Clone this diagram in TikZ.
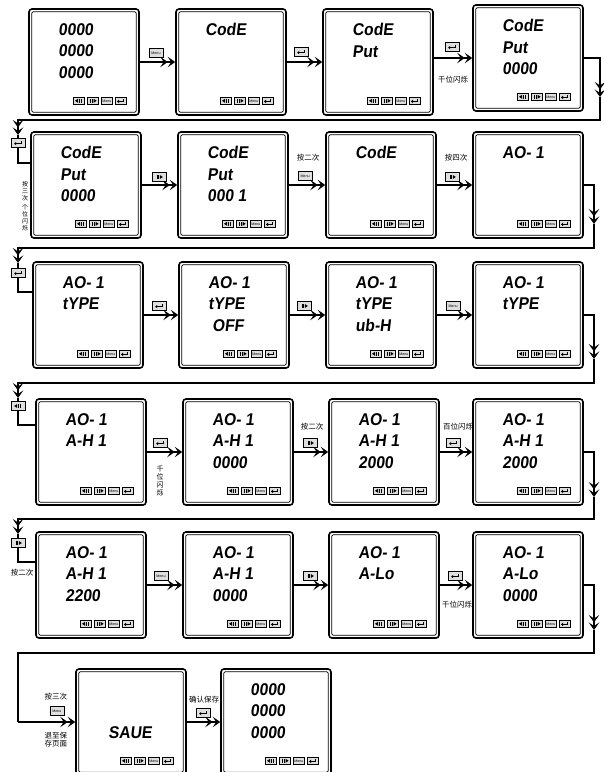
\documentclass[tikz,border=0pt]{standalone}
\usepackage{fontspec}
\setmainfont{Liberation Sans}
\newfontfamily\lcdfont{Liberation Sans}[FakeSlant=0.12,FakeStretch=0.92]
\newfontfamily\cjk{Noto Sans CJK SC}
\usetikzlibrary{arrows.meta,calc}

% one meter face: name, centre, display lines
\newcommand{\meter}[3]{%
  \node[meter] (#1) at (#2) {};
  \draw[meterin] ($(#1.north west)+(3.5,3.5)$) rectangle ($(#1.south east)+(-3.5,-3.5)$);
  \node[lcd] (#1-txt) at ($(#1.north west)+(30,15)$) {#3};
  \node[key,kl] (#1-kl) at ($(#1.south east)+(-61,-15)$) {};
  \node[key,kr] (#1-kr) at ($(#1.south east)+(-47,-15)$) {};
  \node[key,km] (#1-km) at ($(#1.south east)+(-33,-15)$) {Menu};
  \node[key,ke] (#1-ke) at ($(#1.south east)+(-19,-15)$) {};
}

\tikzset{
  meter/.style={draw, line width=1.6pt, rounded corners=3pt,
    minimum width=110pt, minimum height=106pt, inner sep=0pt},
  meterin/.style={line width=0.7pt, rounded corners=1.5pt},
  lcd/.style={anchor=north west, align=left, inner sep=0pt,
    font=\lcdfont\bfseries\fontsize{17}{21.5}\selectfont},
  key/.style={draw, fill=gray!25, line width=0.5pt, minimum width=11pt,
    minimum height=7.5pt, inner sep=0pt},
  bigkey/.style={key, minimum width=14pt, minimum height=9pt},
  kl/.style={path picture={
    \coordinate (pc) at (path picture bounding box.center);
    \fill[black] ([xshift=-3.8pt]pc) -- ([xshift=-0.8pt,yshift=2pt]pc)
      -- ([xshift=-0.8pt,yshift=-2pt]pc) -- cycle;
    \fill[black] ([xshift=0.2pt,yshift=-2.3pt]pc) rectangle ([xshift=0.9pt,yshift=2.3pt]pc);
    \fill[black] ([xshift=1.7pt,yshift=-2.3pt]pc) rectangle ([xshift=2.4pt,yshift=2.3pt]pc);
  }},
  kr/.style={path picture={
    \coordinate (pc) at (path picture bounding box.center);
    \fill[black] ([xshift=3.8pt]pc) -- ([xshift=0.8pt,yshift=2pt]pc)
      -- ([xshift=0.8pt,yshift=-2pt]pc) -- cycle;
    \fill[black] ([xshift=-0.2pt,yshift=-2.3pt]pc) rectangle ([xshift=-0.9pt,yshift=2.3pt]pc);
    \fill[black] ([xshift=-1.7pt,yshift=-2.3pt]pc) rectangle ([xshift=-2.4pt,yshift=2.3pt]pc);
  }},
  km/.style={font=\fontsize{3.6}{3.6}\selectfont, text=black},
  ke/.style={path picture={
    \coordinate (pc) at (path picture bounding box.center);
    \draw[black, line width=0.8pt, -{Triangle[length=2pt,width=3.2pt]}]
      ([xshift=3pt,yshift=2pt]pc) -- ([xshift=3pt,yshift=-0.6pt]pc)
      -- ([xshift=-3.8pt,yshift=-0.6pt]pc);
  }},
  flow/.style={line width=1.2pt},
  note/.style={font=\cjk\fontsize{7.5}{8}\selectfont, inner sep=0pt},
  tiny/.style={font=\cjk\fontsize{6}{6.8}\selectfont, inner sep=0pt, align=center}
}

\begin{document}
\begin{tikzpicture}[x=1pt, y=-1pt,
  >={Stealth[length=7.5pt,width=10.5pt,inset=3.5pt]}]
\useasboundingbox (0,0) rectangle (604,772);
\clip (0,0) rectangle (604,772);
\fill[white] (0,0) rectangle (604,772);

% ---- row 1 ----
\meter{m1}{84,62}{0000\\0000\\0000}
\meter{m2}{231,62}{CodE}
\meter{m3}{378,62}{CodE\\Put}
\meter{m4}{528,58}{CodE\\Put\\0000}
\draw[flow,->>] (m1) -- (m2);
\draw[flow,->>] (m2) -- (m3);
\draw[flow,->>] (m4.west -| m3.east) -- (m4.west);
\node[bigkey,km] (k12) at (156,53) {Menu};
\node[bigkey,ke] (k23) at (301,52) {};
\node[bigkey,ke] (k34) at (452,47) {};
\node[note] (t34) at (453,80) {千位闪烁};

% ---- wrap 1 ----
\coordinate (w1a) at (600,97);
\coordinate (w1r) at (600,120);
\coordinate (w1l) at (18,120);
\coordinate (w1b) at (18,135);
\coordinate (w1e) at (18,163);

% ---- row 2 ----
\meter{m5}{86,185}{CodE\\Put\\0000}
\meter{m6}{233,185}{CodE\\Put\\000 1}
\meter{m7}{381,185}{CodE}
\meter{m8}{528,185}{AO- 1}
\draw[flow,->>] (m4.east) -| (w1a);
\draw[flow,->>] (w1a) -- (w1r) -- (w1l) -- (w1b);
\draw[flow] (w1b) -- (w1e) -- (w1e -| m5.west);
\node[bigkey,ke] (k45) at (18,143) {};
\node[tiny] (t45) at (25,206) {按\\三\\次\\[3pt]个\\位\\闪\\烁};
\draw[flow,->>] (m5) -- (m6);
\draw[flow,->>] (m6) -- (m7);
\draw[flow,->>] (m7) -- (m8);
\node[bigkey,kr] (k56) at (159,177) {};
\node[note] (t67) at (308,158) {按二次};
\node[bigkey,km] (k67) at (305,176) {Menu};
\node[note] (t78) at (456,158) {按四次};
\node[bigkey,kr] (k78) at (452,177) {};

% ---- wrap 2 ----
\coordinate (w2a) at (594,224);
\coordinate (w2r) at (594,248);
\coordinate (w2l) at (18,248);
\coordinate (w2b) at (18,263);
\coordinate (w2e) at (18,292);

% ---- row 3 ----
\meter{m9}{88,315}{AO- 1\\tYPE}
\meter{m10}{234,315}{AO- 1\\tYPE\\\hspace{4pt}OFF}
\meter{m11}{381,315}{AO- 1\\tYPE\\ub-H}
\meter{m12}{528,315}{AO- 1\\tYPE}
\draw[flow,->>] (m8.east) -| (w2a);
\draw[flow,->>] (w2a) -- (w2r) -- (w2l) -- (w2b);
\draw[flow] (w2b) -- (w2e) -- (w2e -| m9.west);
\node[bigkey,ke] (k89) at (18,273) {};
\draw[flow,->>] (m9) -- (m10);
\draw[flow,->>] (m10) -- (m11);
\draw[flow,->>] (m11) -- (m12);
\node[bigkey,ke] (k910) at (159,306) {};
\node[bigkey,kr] (k1011) at (304,306) {};
\node[bigkey,km] (k1112) at (453,306) {Menu};

% ---- wrap 3 ----
\coordinate (w3a) at (594,359);
\coordinate (w3r) at (594,383);
\coordinate (w3l) at (18,383);
\coordinate (w3b) at (18,398);
\coordinate (w3e) at (18,425);

% ---- row 4 ----
\meter{m13}{91,452}{AO- 1\\A-H 1}
\meter{m14}{238,452}{AO- 1\\A-H 1\\0000}
\meter{m15}{384,452}{AO- 1\\A-H 1\\2000}
\meter{m16}{528,452}{AO- 1\\A-H 1\\2000}
\draw[flow,->>] (m12.east) -| (w3a);
\draw[flow,->>] (w3a) -- (w3r) -- (w3l) -- (w3b);
\draw[flow] (w3b) -- (w3e) -- (w3e -| m13.west);
\node[bigkey,kl] (k1213) at (18,406) {};
\draw[flow,->>] (m13) -- (m14);
\draw[flow,->>] (m14) -- (m15);
\draw[flow,->>] (m15) -- (m16);
\node[bigkey,ke] (k1314) at (160,443) {};
\node[tiny, font=\cjk\fontsize{7}{8}\selectfont] (t1314) at (160,481) {千\\位\\闪\\烁};
\node[note] (t1415) at (312,427) {按二次};
\node[bigkey,kr] (k1415) at (310,443) {};
\node[note] (t1516) at (458,427) {百位闪烁};
\node[bigkey,ke] (k1516) at (453,443) {};

% ---- wrap 4 ----
\coordinate (w4a) at (594,497);
\coordinate (w4r) at (594,519);
\coordinate (w4l) at (18,519);
\coordinate (w4b) at (18,534);
\coordinate (w4e) at (18,562);

% ---- row 5 ----
\meter{m17}{91,585}{AO- 1\\A-H 1\\2200}
\meter{m18}{238,585}{AO- 1\\A-H 1\\0000}
\meter{m19}{384,585}{AO- 1\\A-Lo}
\meter{m20}{528,585}{AO- 1\\A-Lo\\0000}
\draw[flow,->>] (m16.east) -| (w4a);
\draw[flow,->>] (w4a) -- (w4r) -- (w4l) -- (w4b);
\draw[flow] (w4b) -- (w4e) -- (w4e -| m17.west);
\node[bigkey,kr] (k1617) at (18,543) {};
\node[note] (t1617) at (22,573) {按二次};
\draw[flow,->>] (m17) -- (m18);
\draw[flow,->>] (m18) -- (m19);
\draw[flow,->>] (m19) -- (m20);
\node[bigkey,km] (k1718) at (161,576) {Menu};
\node[bigkey,kr] (k1819) at (310,576) {};
\node[bigkey,ke] (k1920) at (455,576) {};
\node[note] (t1920) at (457,605) {千位闪烁};

% ---- wrap 5 ----
\coordinate (w5a) at (594,630);
\coordinate (w5r) at (594,653);
\coordinate (w5l) at (18,653);
\coordinate (w5e) at (18,722);

% ---- row 6 ----
\meter{m21}{131,722}{\vphantom{0}\\\vphantom{0}\\\hspace{3pt}SAUE}
\meter{m22}{276,722}{0000\\0000\\0000}
\draw[flow,->>] (m20.east) -| (w5a);
\draw[flow] (w5a) -- (w5r) -- (w5l) -- (w5e);
\draw[flow,->>] (w5e) -- (w5e -| m21.west);
\node[note] (t2021) at (56,697) {按三次};
\node[bigkey,km] (k2021) at (57,711) {Menu};
\node[note, align=center] (u2021) at (56,740) {退至保\\存页面};
\draw[flow,->>] (m21) -- (m22);
\node[note] (t2122) at (204,700) {确认保存};
\node[bigkey,ke] (k2122) at (203,713) {};
\end{tikzpicture}
\end{document}
